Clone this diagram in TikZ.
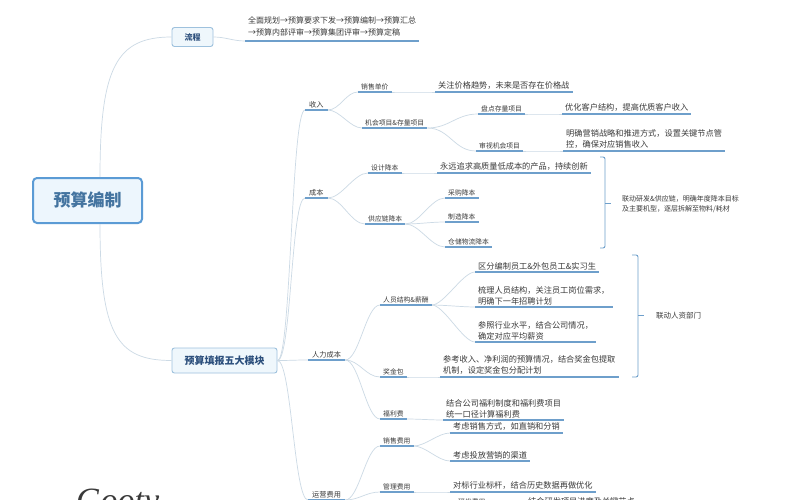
\documentclass[tikz,border=0pt]{standalone}
\usepackage{fontspec}
\setmainfont{Noto Sans CJK SC}
\newfontfamily\handfont{Liberation Serif}
\usetikzlibrary{positioning}
\definecolor{ulblue}{HTML}{6E9FCB}
\definecolor{linkgray}{HTML}{CCDAE5}
\definecolor{txt}{HTML}{3A3A3A}
\definecolor{rootblue}{HTML}{5B9BD5}
\definecolor{rootfill}{HTML}{EDF6FD}
\definecolor{boxline}{HTML}{9EC1DD}
\definecolor{boxfill}{HTML}{EFF7FC}
\definecolor{boxtext}{HTML}{2C4F7C}
\tikzset{
  lbl/.style={anchor=south west, inner xsep=3pt, inner ysep=2pt, text=txt, font=\fontsize{6.8}{8}\selectfont},
  lvtwo/.style={lbl, inner xsep=4pt, font=\fontsize{7.2}{9}\selectfont},
  desc/.style={lbl, align=left, font=\fontsize{8.2}{11}\selectfont},
  sumtext/.style={anchor=west, align=left, inner sep=1pt, text=txt, font=\fontsize{7}{10}\selectfont},
  uline/.style={draw=ulblue, line width=1.1pt},
  link/.style={draw=linkgray, line width=0.7pt},
  brace/.style={draw=ulblue, line width=0.9pt, rounded corners=2pt},
  topbox/.style={draw=boxline, fill=boxfill, line width=0.9pt, rounded corners=2.5pt, text=boxtext, font=\bfseries\fontsize{10}{12}\selectfont},
  branch/.style={to path={.. controls +(#1,0) and +(-#1,0) .. (\tikztotarget)}},
  branch/.default=12
}
\begin{document}
\begin{tikzpicture}[x=1pt, y=-1pt]
\useasboundingbox[fill=white] (0,0) rectangle (800,500);
% root and the two main branches
\node[draw=rootblue, fill=rootfill, line width=2pt, rounded corners=4pt, minimum width=109pt, minimum height=45pt, text=rootblue!75!black, font=\bfseries\fontsize{17}{20}\selectfont] (root) at (87.5,200.5) {预算编制};
\node[topbox, minimum width=41pt, minimum height=19pt, font=\bfseries\fontsize{8}{10}\selectfont] (flow) at (192.5,37) {流程};
\node[topbox, minimum width=105pt, minimum height=25pt] (modules) at (224.5,360.5) {预算填报五大模块};
\node[desc, inner ysep=5pt, font=\fontsize{8}{12}\selectfont] (flowD) at (245,41) {全面规划→预算要求下发→预算编制→预算汇总\\→预算内部评审→预算集团评审→预算定稿};

% five modules
\node[lvtwo] (inc) at (305,110) {收入};
\node[lvtwo] (cost) at (305,198) {成本};
\node[lvtwo] (hr) at (308,360) {人力成本};
\node[lvtwo] (ops) at (308,500) {运营费用};

% income
\node[lbl] (price) at (358,92) {销售单价};
\node[desc] (priceD) at (435,92) {关注价格趋势，未来是否存在价格战};
\node[lbl] (opp) at (362,128) {机会项目\&存量项目};
\node[lbl] (stock) at (478,114) {盘点存量项目};
\node[desc] (stockD) at (562,114) {优化客户结构，提高优质客户收入};
\node[lbl] (newp) at (476,151) {审视机会项目};
\node[desc] (newpD) at (563,151) {明确营销战略和推进方式，设置关键节点管\\控，确保对应销售收入};

% cost
\node[lbl] (design) at (368,173) {设计降本};
\node[desc] (designD) at (437,173) {永远追求高质量低成本的产品，持续创新};
\node[lbl] (supply) at (365,224) {供应链降本};
\node[lbl] (buy) at (445,198) {采购降本};
\node[lbl] (make) at (445,222) {制造降本};
\node[lbl] (store) at (445,247) {仓储物流降本};
\draw[brace] (600,157) -- (605,157) -- (605,248) -- (600,248);
\draw[brace] (605,203) -- (611,203);
\node[sumtext] (costB) at (621,204) {联动研发\&供应链，明确年度降本目标\\及主要机型，逐层拆解至物料/耗材};

% staff
\node[lbl] (staff) at (380,305) {人员结构\&薪酬};
\node[desc] (s1) at (475,272) {区分编制员工\&外包员工\&实习生};
\node[desc] (s2) at (475,307) {梳理人员结构，关注员工岗位需求，\\明确下一年招聘计划};
\node[desc] (s3) at (475,342) {参照行业水平，结合公司情况，\\确定对应平均薪资};
\node[lbl] (bonus) at (380,377) {奖金包};
\node[desc] (bonusD) at (440,377) {参考收入、净利润的预算情况，结合奖金包提取\\机制，设定奖金包分配计划};
\node[lbl] (welfare) at (380,419) {福利费};
\node[desc] (welD) at (443,420) {结合公司福利制度和福利费项目\\统一口径计算福利费};
\draw[brace] (632,255) -- (638,255) -- (638,377) -- (632,377);
\draw[brace] (638,315) -- (644,315);
\node[sumtext, font=\fontsize{7.5}{10}\selectfont] (hrB) at (655,316) {联动人资部门};

% operating expenses
\node[lbl] (sales) at (380,446) {销售费用};
\node[desc] (sd1) at (450,433) {考虑销售方式，如直销和分销};
\node[desc] (sd2) at (450,461) {考虑投放营销的渠道};
\node[lbl] (admin) at (380,492) {管理费用};
\node[desc] (ad1) at (450,492) {对标行业标杆，结合历史数据再做优化};
\node[lbl] (rnd) at (455,507) {研发费用};
\node[desc] (rndD) at (525,507) {结合研发项目进度及关键节点};

\node[anchor=north west, inner sep=0pt, text=txt, font=\handfont\itshape\fontsize{34}{34}\selectfont] (sign) at (76,489) {Gooty};

% connectors
\draw[link] ([xshift=12.5pt]root.north) .. controls +(0,-110) and +(-55,0) .. (flow.west);
\draw[link] ([xshift=12.5pt]root.south) .. controls +(0,110) and +(-55,0) .. (modules.west);
\draw[link] (flow.east) to[branch] (flowD.south west);
\foreach \b in {inc,cost,hr,ops}
  \draw[link] (modules.east) to[branch=14] (\b.south west);
\foreach \a/\b/\d in {inc/price/12, inc/opp/12, price/priceD/15, opp/stock/22, opp/newp/22,
    stock/stockD/15, newp/newpD/15, cost/design/14, cost/supply/14, design/designD/15,
    supply/buy/14, supply/make/14, supply/store/14, hr/staff/14, hr/bonus/14, hr/welfare/14,
    staff/s1/12, staff/s2/12, staff/s3/12, bonus/bonusD/10, welfare/welD/12,
    ops/sales/14, ops/admin/14, sales/sd1/12, sales/sd2/12, admin/ad1/12, rnd/rndD/12}
  \draw[link] (\a.south east) to[branch=\d] (\b.south west);

% underlines
\foreach \n in {flowD,inc,cost,hr,ops,price,priceD,opp,stock,stockD,newp,newpD,design,designD,
    supply,buy,make,store,staff,s1,s2,s3,bonus,bonusD,welfare,welD,sales,sd1,sd2,admin,ad1,rnd,rndD}
  \draw[uline] (\n.south west) -- (\n.south east);
\end{tikzpicture}
\end{document}
